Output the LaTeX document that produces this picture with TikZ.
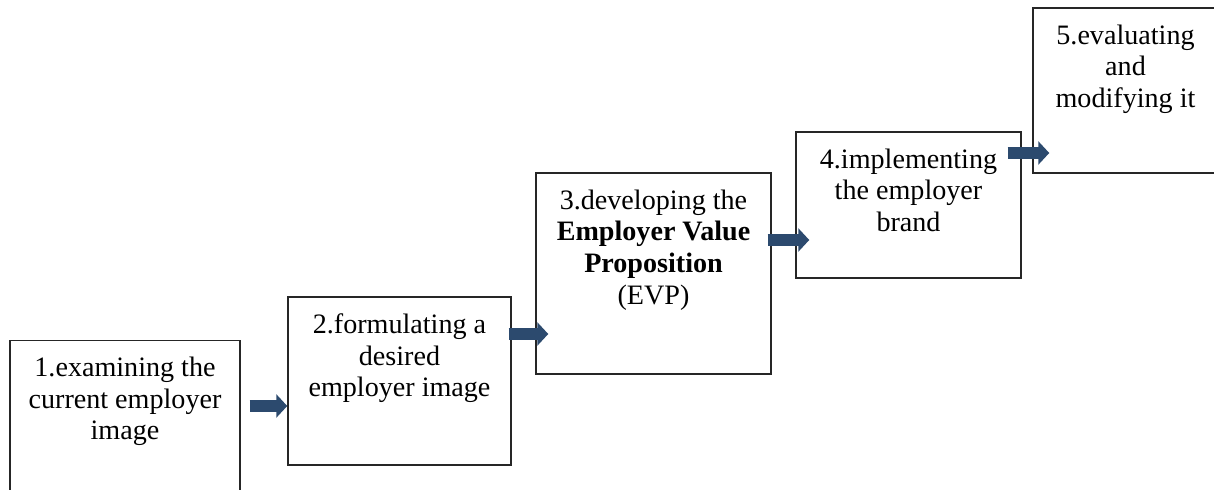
\documentclass[tikz,border=0pt]{standalone}
\usepackage{fontspec}
\setmainfont{Liberation Serif}
\usetikzlibrary{arrows.meta,positioning,calc}
\definecolor{arrowblue}{HTML}{2C4A6E}
\definecolor{boxline}{HTML}{262626}
\tikzset{
    stepbox/.style={draw=boxline,line width=0.85pt,inner sep=0pt},
    steptext/.style={inner sep=0pt,align=center,text=black,
      font=\fontsize{16}{18}\selectfont},
    flowarrow/.style={draw=arrowblue,line width=0.24cm,
      -{Triangle[length=0.22cm 0 0,width=0.46cm 0 0]}}
}

\begin{document}
\begin{tikzpicture}[x=0.02cm,y=-0.02cm]
  \useasboundingbox (0,0) rectangle (1214,490);
  \clip (0,0) rectangle (1214,490);
  % the five steps
  \node[stepbox,minimum width=4.6cm,minimum height=3.5cm] (b1) at (125,428) {};
  \node[stepbox,minimum width=4.46cm,minimum height=3.36cm] (b2) at (399.5,381) {};
  \node[stepbox,minimum width=4.7cm,minimum height=4.02cm] (b3) at (653.5,273.5) {};
  \node[stepbox,minimum width=4.5cm,minimum height=2.92cm] (b4) at (908.5,205) {};
  \node[stepbox,minimum width=3.7cm,minimum height=3.3cm] (b5) at (1125.5,90.5) {};
  \node[steptext,below=0.34cm of b1.north] (t1) {1.examining the\\current employer\\image};
  \node[steptext,below=0.34cm of b2.north] (t2) {2.formulating a\\desired\\employer image};
  \node[steptext,below=0.34cm of b3.north] (t3) {3.developing the\\\textbf{Employer Value}\\\textbf{Proposition}\\(EVP)};
  \node[steptext,below=0.34cm of b4.north] (t4) {4.implementing\\the employer\\brand};
  \node[steptext,below=0.34cm of b5.north] (t5) {5.evaluating\\and\\modifying it};
  % arrows between steps
  \draw[flowarrow] ($(b1.east |- 0,406)+(9,0)$) -- (b2.west |- 0,406);
  \draw[flowarrow] ($(b2.east |- 0,334)+(-3,0)$) -- ($(b3.west |- 0,334)+(13,0)$);
  \draw[flowarrow] ($(b3.east |- 0,240)+(-4,0)$) -- ($(b4.west |- 0,240)+(14,0)$);
  \draw[flowarrow] ($(b4.east |- 0,153)+(-14,0)$) -- ($(b5.west |- 0,153)+(17,0)$);
\end{tikzpicture}
\end{document}
